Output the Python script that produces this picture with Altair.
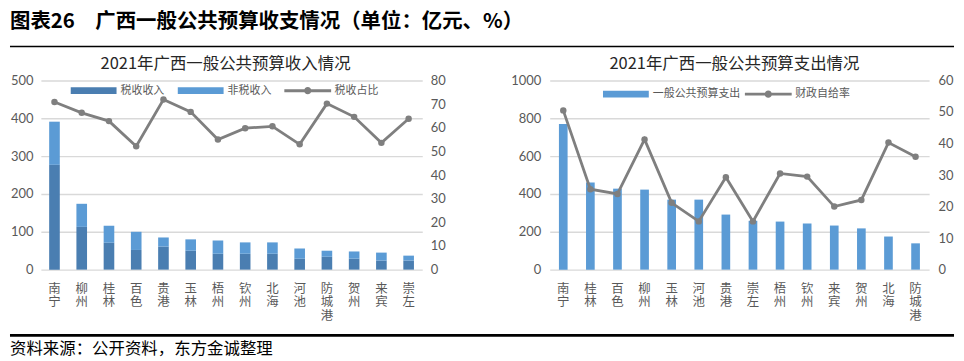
import altair as alt
import pandas as pd

# ---------------- data ----------------
cities_in = ["南宁", "柳州", "桂林", "百色", "贵港", "玉林", "梧州", "钦州", "北海", "河池", "防城港", "贺州", "来宾", "崇左"]
tax_rev = [277, 113, 71, 52, 61, 50, 42, 42, 42, 29, 34, 29, 24, 24]
total_rev = [391, 174, 116, 100, 85, 80, 77, 72, 72, 56, 50, 48, 45, 37]
tax_share = [70.9, 66.3, 62.8, 52.2, 71.9, 66.7, 55.0, 59.8, 60.6, 53.0, 70.2, 64.6, 53.6, 63.8]

cities_out = ["南宁", "桂林", "百色", "柳州", "玉林", "河池", "贵港", "崇左", "梧州", "钦州", "来宾", "贺州", "北海", "防城港"]
expenditure = [770, 460, 428, 423, 370, 370, 291, 258, 254, 244, 233, 218, 175, 139]
self_sufficiency = [50.5, 25.5, 24.0, 41.3, 21.2, 15.3, 29.3, 15.3, 30.5, 29.5, 20.0, 22.1, 40.3, 35.8]

series_in = ["税收收入", "非税收入", "税收占比"]
series_out = ["一般公共预算支出", "财政自给率"]
fig_title = "图表26　广西一般公共预算收支情况（单位：亿元、%）"
left_title = "2021年广西一般公共预算收入情况"
right_title = "2021年广西一般公共预算支出情况"
source_text = "资料来源：公开资料，东方金诚整理"

# ---------------- tables ----------------
rev_rows = []
for c, t, tot in zip(cities_in, tax_rev, total_rev):
    rev_rows.append({"city": c, "series": series_in[0], "value": t, "ord": 0})
    rev_rows.append({"city": c, "series": series_in[1], "value": tot - t, "ord": 1})
rev_df = pd.DataFrame(rev_rows)
share_df = pd.DataFrame({"city": cities_in, "share": tax_share})
exp_df = pd.DataFrame({"city": cities_out, "value": expenditure, "series": series_out[0]})
self_df = pd.DataFrame({"city": cities_out, "rate": self_sufficiency})

# ---------------- styles ----------------
CJK = "Noto Sans CJK SC"
NUM = "Lato"
DARK = "#4a7eb1"
LIGHT = "#5b9bd5"
GRAY = "#7f7f7f"
GRID = "#d9d9d9"
LABEL = "#595959"

# legend symbols (symbolSize=100 -> 1 unit = 5 px)
RECT = "M-4.6,-0.68H4.6V0.68H-4.6Z"
LINE = ("M-4.7,-0.3H4.7V0.3H-4.7Z"
        "M-0.72,0A0.72,0.72 0 1,1 0.72,0A0.72,0.72 0 1,1 -0.72,0Z")

LEFT_AXIS = 31          # width of the left chart's left axis band
FULL_W = 948            # whole figure width


def x_axis():
    return alt.Axis(title=None, labelAngle=0, labelExpr="split(datum.label, '')",
                    labelBaseline="top", labelLineHeight=13.3, labelFontSize=12.5,
                    labelFont=CJK, labelColor=LABEL, labelPadding=13,
                    domain=False, ticks=False, minExtent=50, maxExtent=50)


def y_axis(values, orient, grid, extent, pad):
    return alt.Axis(title=None, values=values, orient=orient, grid=grid, format="d",
                    gridColor=GRID, gridWidth=1.4, domain=False, ticks=False,
                    labelFont=NUM, labelFontSize=13, labelColor=LABEL,
                    labelPadding=pad, minExtent=extent, maxExtent=extent)


def legend(line_name, lx, ly, colpad):
    return alt.Legend(
        title=None, orient="none", legendX=lx, legendY=ly, direction="horizontal",
        symbolType={"expr": f"datum.value === '{line_name}' ? '{LINE}' : '{RECT}'"},
        symbolSize=100, symbolStrokeWidth=0, padding=0,
        labelFont=CJK, labelFontSize=11, labelColor=LABEL, labelOffset=21.5,
        columnPadding=colpad,
    )


def panel_title(text, dx):
    return alt.TitleParams(text, font=CJK, fontSize=16.5, fontWeight="normal",
                           color="#262626", anchor="middle", frame="group",
                           offset=2, dx=dx)


# ---------------- left panel ----------------
x_in = alt.X("city:N", sort=cities_in,
             scale=alt.Scale(paddingInner=0.61, paddingOuter=0.305), axis=x_axis())

bars_in = alt.Chart(rev_df).mark_bar().encode(
    x=x_in,
    y=alt.Y("value:Q", stack="zero", scale=alt.Scale(domain=[0, 500]),
            axis=y_axis([0, 100, 200, 300, 400, 500], "left", True, LEFT_AXIS, 8)),
    color=alt.Color("series:N", scale=alt.Scale(domain=series_in, range=[DARK, LIGHT, GRAY]),
                    legend=legend(series_in[2], 47.5, 4.5, 12.5)),
    order=alt.Order("ord:Q"),
)
line_in = alt.Chart(share_df).mark_line(
    color=GRAY, strokeWidth=2.8,
    point=alt.OverlayMarkDef(color=GRAY, size=42, filled=True, opacity=1),
).encode(
    x=x_in,
    y=alt.Y("share:Q", scale=alt.Scale(domain=[0, 80]),
            axis=y_axis(list(range(0, 90, 10)), "right", False, 30, 8)),
)
left = alt.layer(bars_in, line_in).resolve_scale(y="independent").properties(
    width=383, height=190, title=panel_title(left_title, -6))

# ---------------- right panel ----------------
x_out = alt.X("city:N", sort=cities_out,
              scale=alt.Scale(paddingInner=0.68, paddingOuter=0.34), axis=x_axis())

bars_out = alt.Chart(exp_df).mark_bar().encode(
    x=x_out,
    y=alt.Y("value:Q", scale=alt.Scale(domain=[0, 1000]),
            axis=y_axis([0, 200, 400, 600, 800, 1000], "left", True, 45, 9)),
    color=alt.Color("series:N", scale=alt.Scale(domain=series_out, range=[LIGHT, GRAY]),
                    legend=legend(series_out[1], 71, 8, 4)),
)
line_out = alt.Chart(self_df).mark_line(
    color=GRAY, strokeWidth=2.8,
    point=alt.OverlayMarkDef(color=GRAY, size=42, filled=True, opacity=1),
).encode(
    x=x_out,
    y=alt.Y("rate:Q", scale=alt.Scale(domain=[0, 60]),
            axis=y_axis(list(range(0, 70, 10)), "right", False, 25, 9)),
)
right = alt.layer(bars_out, line_out).resolve_scale(y="independent").properties(
    width=381, height=190, title=panel_title(right_title, -5))

middle = alt.hconcat(left, right, spacing=53).resolve_scale(color="independent")

# ---------------- header / footer ----------------
# header/footer views are aligned with the left plot's origin, so their
# marks start LEFT_AXIS px to the left of it.
one = pd.DataFrame({"k": [0]})
head_text = alt.Chart(one).mark_text(
    font=CJK, fontSize=20.5, fontWeight="bold", color="#000000",
    align="left", baseline="top").encode(
    x=alt.value(-LEFT_AXIS), y=alt.value(3), text=alt.value(fig_title))
head_rule = alt.Chart(one).mark_rule(color="#000000", strokeWidth=1.5).encode(
    x=alt.value(-LEFT_AXIS), x2=alt.value(FULL_W - LEFT_AXIS), y=alt.value(38))
header = alt.layer(head_text, head_rule).properties(width=FULL_W - LEFT_AXIS, height=47)

foot_rule = alt.Chart(one).mark_rule(color="#000000", strokeWidth=2.6).encode(
    x=alt.value(-LEFT_AXIS), x2=alt.value(FULL_W - LEFT_AXIS), y=alt.value(13))
foot_text = alt.Chart(one).mark_text(
    font=CJK, fontSize=16.5, color="#000000", align="left", baseline="middle").encode(
    x=alt.value(-LEFT_AXIS), y=alt.value(27), text=alt.value(source_text))
footer = alt.layer(foot_rule, foot_text).properties(width=FULL_W - LEFT_AXIS, height=28)

chart = alt.vconcat(header, middle, footer, spacing=0).properties(
    padding=0, background="white"
).configure_view(stroke=None)

chart.save("out.html", embed_options={"renderer": "svg", "actions": False})
